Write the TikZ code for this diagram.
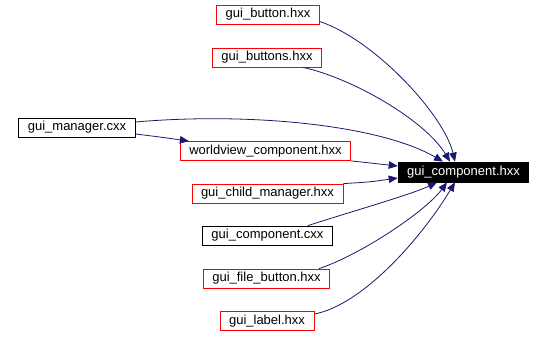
\documentclass[tikz,border=0pt]{standalone}
\usepackage{fontspec}
\setmainfont{Liberation Sans}
\usepackage{xcolor}
\usepackage{tikz}
\usetikzlibrary{arrows.meta}

\definecolor{edgeblue}{HTML}{191970}

\begin{document}
\begin{tikzpicture}[
      x=1pt, y=-1pt,
      hdrbox/.style={rectangle, draw=red, line width=0.8pt, fill=white,
            inner xsep=9pt, inner ysep=0pt, minimum height=19pt,
            font=\fontsize{13}{15}\selectfont},
      srcbox/.style={hdrbox, draw=black},
      focus/.style={hdrbox, draw=black, fill=black, text=white, minimum height=20pt},
      dep/.style={-{Triangle[length=9pt, width=7.5pt]}, draw=edgeblue, line width=0.8pt}
]
      \useasboundingbox (0,0) rectangle (542,337);

      \node[hdrbox] (button) at (268,14.5) {gui\_button.hxx};
      \node[hdrbox] (buttons) at (267,57.5) {gui\_buttons.hxx};
      \node[srcbox] (manager) at (77,127.5) {gui\_manager.cxx};
      \node[hdrbox] (worldview) at (265.5,151) {worldview\_component.hxx};
      \node[hdrbox] (childmgr) at (267.5,193.5) {gui\_child\_manager.hxx};
      \node[focus] (comph) at (463.5,172) {gui\_component.hxx};
      \node[srcbox] (compcxx) at (267.5,235.5) {gui\_component.cxx};
      \node[hdrbox] (filebutton) at (266.5,278.5) {gui\_file\_button.hxx};
      \node[hdrbox] (label) at (267,321) {gui\_label.hxx};

      % includes pointing at the header
      \draw[dep] ([yshift=-7pt]button.east) .. controls (375,40) and (444,115) .. ([xshift=-8.5pt]comph.north);
      \draw[dep] ([xshift=36pt]buttons.south) .. controls (352,78) and (425,120) .. ([xshift=-13.5pt]comph.north);
      \draw[dep] ([yshift=5.5pt]manager.east) .. controls (250,112) and (380,125) .. ([xshift=-20.5pt]comph.north);
      \draw[dep] ([yshift=-6.5pt]manager.east) .. controls (160,137) .. ([xshift=9pt]worldview.north west);
      \draw[dep] (worldview.south east) .. controls (370,163) .. ([yshift=6pt]comph.west);
      \draw[dep] (childmgr.north east) .. controls (370,182) .. ([yshift=-6pt]comph.west);
      \draw[dep] ([xshift=40.5pt]compcxx.north) .. controls (340,215) and (410,195) .. ([xshift=-26.5pt]comph.south);
      \draw[dep] ([xshift=-11pt]filebutton.north east) .. controls (360,255) and (425,212) .. ([xshift=-16.5pt]comph.south);
      \draw[dep] ([yshift=7pt]label.east) .. controls (362,305) and (420,240) .. ([xshift=-8.5pt]comph.south);
\end{tikzpicture}
\end{document}
